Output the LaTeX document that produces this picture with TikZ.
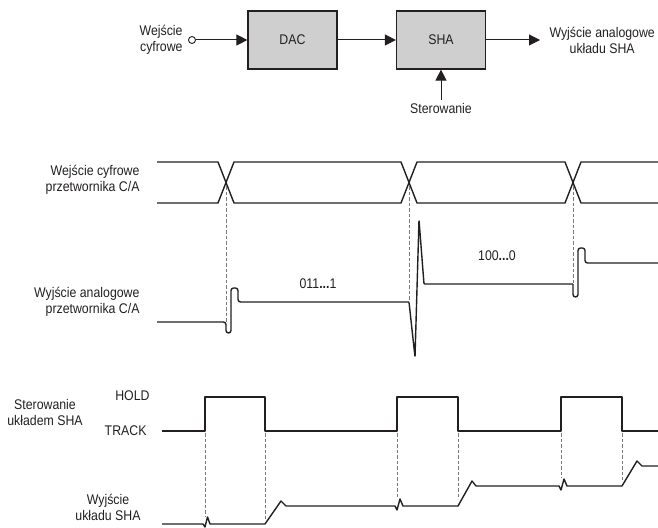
\documentclass[tikz,border=0pt]{standalone}
\usepackage{fontspec}
\setmainfont{Liberation Sans}[FakeStretch=0.88]
\usetikzlibrary{arrows.meta, positioning}
\definecolor{cink}{HTML}{231F20}
\definecolor{cbox}{HTML}{CFCFCF}
\definecolor{cguide}{HTML}{7A7A7A}
\tikzset{
  every picture/.style={font=\fontsize{14}{16}\selectfont, line width=1pt, color=cink},
  block/.style={draw=cink, fill=cbox, line width=1.2pt, minimum width=89pt, minimum height=58pt, inner sep=0pt},
  arr/.style={-{Triangle[length=11pt, width=11pt]}, draw=cink, line width=1pt},
  lbl/.style={inner sep=2pt, align=#1},
  lbl/.default=center,
  sig/.style={draw=cink, line width=1.4pt, line join=round},
  guide/.style={draw=cguide, line width=0.9pt, dash pattern=on 3.5pt off 2pt},
}

\begin{document}
\begin{tikzpicture}[x=1pt, y=-1pt]
  \useasboundingbox (0,0) rectangle (658,527);
  % block diagram
  \node[block] (dac) at (292.5,40) {DAC};
  \node[block] (sha) at (441,40) {SHA};
  \node[circle, draw, inner sep=0pt, minimum size=7pt, line width=0.9pt] (din) at (192,40) {};
  \node[lbl=right, left=3pt of din] (dinlbl) {Wejście\\cyfrowe};
  \node[lbl, anchor=west, inner xsep=9pt] (shaout) at (540,40) {Wyjście analogowe\\układu SHA};
  \node[lbl] (ctl) at (441,108) {Sterowanie};
  \draw[arr] (din) -- (dac);
  \draw[arr] (dac) -- (sha);
  \draw[arr] (sha) -- (shaout);
  \draw[arr] (ctl) -- (sha);
  % timing labels
  \node[lbl=right, anchor=east] (dinwave) at (142,180) {Wejście cyfrowe\\przetwornika C/A};
  \node[lbl=right, anchor=east] (dacwave) at (142,302) {Wyjście analogowe\\przetwornika C/A};
  \node[lbl] (ctlwave) at (45,412) {Sterowanie\\układem SHA};
  \node[lbl, anchor=east] (hold) at (152,396) {HOLD};
  \node[lbl, anchor=east] (track) at (149,431) {TRACK};
  \node[lbl] (shawave) at (108,507) {Wyjście\\układu SHA};
  \node[lbl] (code1) at (318,284) {011\textbf{...}1};
  \node[lbl] (code2) at (497,256) {100\textbf{...}0};
  % digital input bus
  \draw[sig] (157,162) -- (218,162) -- (234,203) -- (401,203) -- (417,162) -- (565,162) -- (581,203) -- (658,203);
  \draw[sig] (157,203) -- (218,203) -- (234,162) -- (401,162) -- (417,203) -- (565,203) -- (581,162) -- (658,162);
  % DAC output
  \draw[sig, rounded corners=2.5pt] (157,322) -- (226,322) -- (226,333) -- (231,333) -- (231,288) -- (238,288) -- (238,302) -- (409,302);
  \draw[sig, rounded corners=1pt] (409,302) -- (415,357) -- (419,220) -- (424,284) -- (573,284);
  \draw[sig, rounded corners=2.5pt] (573,284) -- (573,297) -- (578,297) -- (578,248) -- (585,248) -- (585,263) -- (658,263);
  % control
  \draw[sig] (162,431) -- (205,431) -- (205,397) -- (265,397) -- (265,431) -- (397,431) -- (397,397) -- (458,397) -- (458,431)
    -- (561,431) -- (561,397) -- (622,397) -- (622,431) -- (658,431);
  % SHA output
  \draw[sig] (162,524) -- (203,524) -- (205,527) -- (207.5,517) -- (210,524) -- (265,524) -- (281,501) -- (286,506)
    -- (395,506) -- (397,510) -- (400,499) -- (403,506) -- (458,506) -- (472,481) -- (476,486)
    -- (559,486) -- (561,490) -- (564,479) -- (567,486) -- (622,486) -- (637,461) -- (642,466) -- (658,466);
  % guides
  \draw[guide] (226,186) -- (226,322);
  \draw[guide] (409,186) -- (409,302);
  \draw[guide] (573,186) -- (573,284);
  \draw[guide] (205,433) -- (205,517);
  \draw[guide] (265,433) -- (265,519);
  \draw[guide] (397,433) -- (397,497);
  \draw[guide] (458,433) -- (458,499);
  \draw[guide] (561,433) -- (561,478);
  \draw[guide] (622,433) -- (622,480);
\end{tikzpicture}
\end{document}
